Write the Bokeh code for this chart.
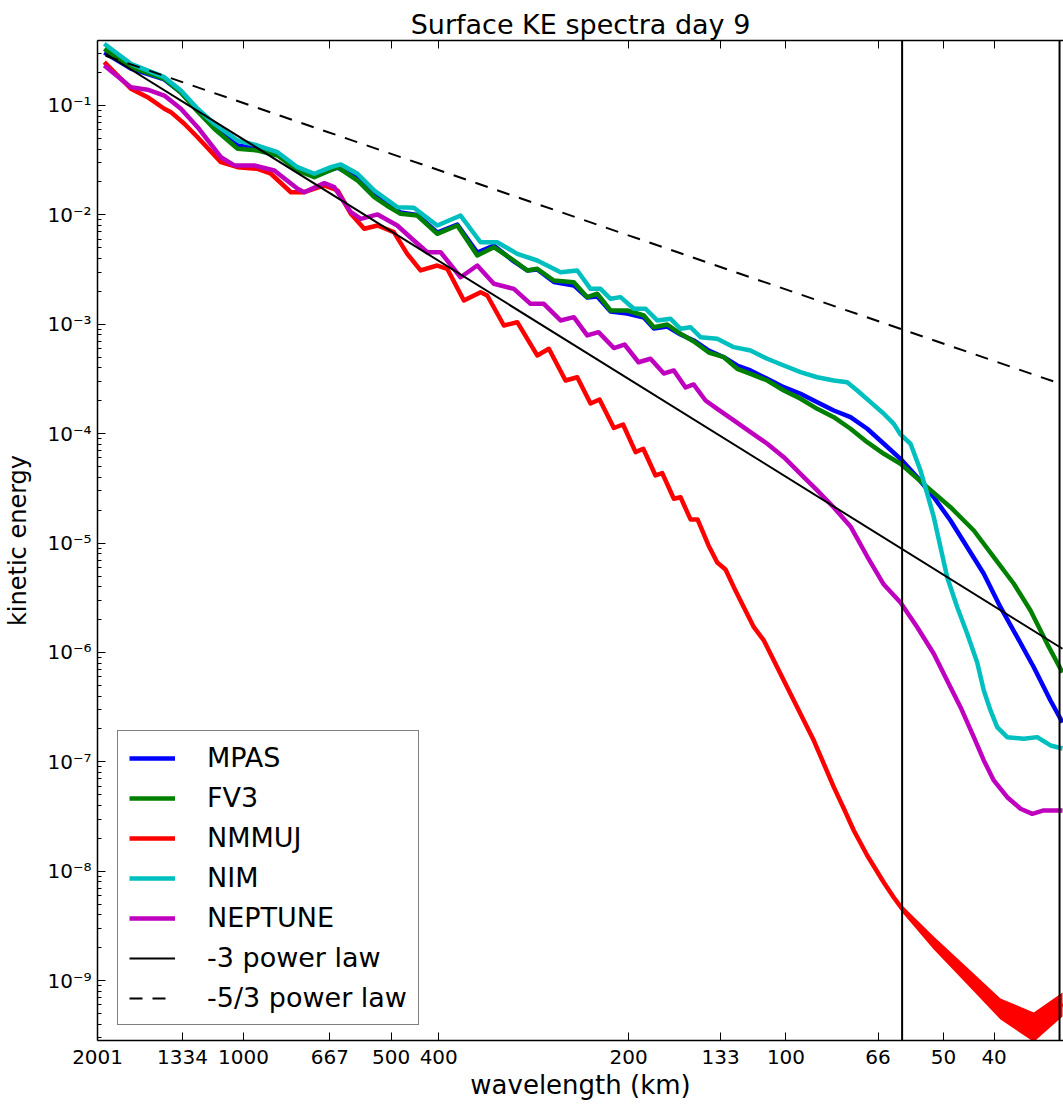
from bokeh.plotting import figure
from bokeh.models import FixedTicker, LogAxis, Span, Legend, LegendItem
from bokeh.embed import file_html
from bokeh.resources import INLINE

# ---- data (log10 wavenumber index, log10 kinetic energy) ----
mpas_lk = [-0.0025, 0.0484, 0.1122, 0.144, 0.1759, 0.2078, 0.2524, 0.2906, 0.3289, 0.3671,
           0.399, 0.4436, 0.4818, 0.5138, 0.5373, 0.564, 0.596, 0.6342, 0.6725, 0.7107,
           0.7424, 0.7807, 0.8063, 0.8254, 0.8572, 0.8954, 0.921, 0.9401, 0.9656, 0.9975,
           1.0292, 1.0484, 1.074, 1.0994, 1.1248, 1.1535, 1.1822, 1.2078, 1.2332, 1.2652,
           1.2969, 1.3288, 1.3608, 1.3925, 1.4244, 1.4564, 1.4881, 1.52, 1.552, 1.5837,
           1.6156, 1.6476, 1.6793, 1.7112, 1.7432, 1.7749, 1.8068, 1.8298]
mpas_le = [-0.516, -0.662, -0.762, -0.881, -1.046, -1.192, -1.366, -1.393, -1.434, -1.576,
           -1.640, -1.567, -1.667, -1.814, -1.905, -1.978, -2.001, -2.161, -2.088, -2.344,
           -2.280, -2.426, -2.508, -2.499, -2.613, -2.645, -2.755, -2.746, -2.883, -2.901,
           -2.938, -3.038, -3.020, -3.093, -3.148, -3.240, -3.301, -3.377, -3.422, -3.498,
           -3.575, -3.635, -3.712, -3.788, -3.849, -3.955, -4.092, -4.230, -4.398, -4.581,
           -4.794, -5.038, -5.281, -5.586, -5.860, -6.135, -6.439, -6.640]

fv3_lk = [-0.0025, 0.0484, 0.1122, 0.144, 0.1759, 0.2078, 0.2524, 0.2906, 0.3289, 0.3671,
          0.399, 0.4436, 0.4818, 0.5138, 0.5373, 0.564, 0.596, 0.6342, 0.6725, 0.7107,
          0.7424, 0.7807, 0.8063, 0.8254, 0.8572, 0.8954, 0.921, 0.9401, 0.9656, 0.9975,
          1.0292, 1.0484, 1.074, 1.0994, 1.1248, 1.1535, 1.1822, 1.2078, 1.2332, 1.2652,
          1.2969, 1.3288, 1.3608, 1.3925, 1.4244, 1.4564, 1.4881, 1.52, 1.5711, 1.6156,
          1.6602, 1.6984, 1.7367, 1.7686, 1.8005, 1.8298]
fv3_le = [-0.482, -0.650, -0.756, -0.881, -1.055, -1.213, -1.396, -1.411, -1.457, -1.594,
          -1.655, -1.564, -1.686, -1.838, -1.914, -1.990, -2.006, -2.173, -2.097, -2.371,
          -2.295, -2.417, -2.508, -2.493, -2.600, -2.615, -2.752, -2.721, -2.874, -2.874,
          -2.920, -3.027, -3.002, -3.087, -3.157, -3.258, -3.301, -3.407, -3.453, -3.514,
          -3.605, -3.681, -3.773, -3.849, -3.955, -4.078, -4.184, -4.275, -4.489, -4.672,
          -4.885, -5.129, -5.372, -5.616, -5.921, -6.183]

nmmuj_lk = [-0.0025, 0.0484, 0.0803, 0.1122, 0.1249, 0.1505, 0.1759, 0.2205, 0.2524, 0.2906,
            0.3161, 0.3543, 0.3799, 0.4182, 0.4436, 0.469, 0.4946, 0.5201, 0.5512, 0.5768,
            0.6023, 0.6342, 0.6533, 0.6851, 0.717, 0.7298, 0.7616, 0.7872, 0.8254, 0.8476,
            0.8795, 0.9019, 0.9273, 0.9445, 0.9719, 0.9895, 1.0134, 1.0281, 1.0516, 1.0644,
            1.0866, 1.0994, 1.1185, 1.1319, 1.1529, 1.1696, 1.1854, 1.2013, 1.2204, 1.2396,
            1.2587, 1.2778, 1.2969, 1.316, 1.3351, 1.3543, 1.3734, 1.3925, 1.4116, 1.4307,
            1.4564, 1.4881, 1.5072, 1.5233, 1.552, 1.5837, 1.6156, 1.6476, 1.6793, 1.7112,
            1.7432, 1.7749, 1.8068, 1.8298]
nmmuj_le = [-0.604, -0.847, -0.924, -1.030, -1.061, -1.167, -1.290, -1.518, -1.564, -1.579,
            -1.624, -1.793, -1.793, -1.731, -1.777, -1.990, -2.127, -2.097, -2.158, -2.356,
            -2.508, -2.463, -2.493, -2.782, -2.707, -2.737, -3.011, -2.981, -3.285, -3.224,
            -3.514, -3.484, -3.724, -3.688, -3.948, -3.916, -4.169, -4.138, -4.382, -4.361,
            -4.595, -4.581, -4.784, -4.784, -5.022, -5.178, -5.241, -5.403, -5.586, -5.769,
            -5.890, -6.073, -6.256, -6.439, -6.622, -6.805, -7.018, -7.231, -7.426, -7.627,
            -7.856, -8.103, -8.240, -8.343, -8.496, -8.651, -8.797, -8.953, -9.108, -9.254,
            -9.346, -9.428, -9.318, -9.209]
# noisy envelope of NMMUJ at the smallest scales
nmmuj_band_lk = [1.5233, 1.5837, 1.6476, 1.7112, 1.7749, 1.8298]
nmmuj_band_hi = [-8.313, -8.596, -8.880, -9.163, -9.291, -9.108]
nmmuj_band_lo = [-8.377, -8.715, -9.035, -9.355, -9.560, -9.328]

nim_lk = [-0.0025, 0.0484, 0.1122, 0.144, 0.1759, 0.2078, 0.2524, 0.2906, 0.3289, 0.3671,
          0.399, 0.4308, 0.4499, 0.4818, 0.5138, 0.5583, 0.5895, 0.6342, 0.6788, 0.717,
          0.7489, 0.7872, 0.8254, 0.87, 0.9019, 0.9273, 0.9464, 0.9656, 0.9847, 1.0101,
          1.0325, 1.0549, 1.0803, 1.0994, 1.1185, 1.1376, 1.1696, 1.2013, 1.2332, 1.2652,
          1.2969, 1.3288, 1.3608, 1.3925, 1.4181, 1.4373, 1.4627, 1.4881, 1.5072, 1.52,
          1.5392, 1.5583, 1.5711, 1.5837, 1.5965, 1.6093, 1.6285, 1.6476, 1.6667, 1.6793,
          1.6921, 1.7049, 1.7241, 1.7558, 1.7814, 1.8068, 1.8298]
nim_le = [-0.436, -0.619, -0.741, -0.863, -1.030, -1.167, -1.320, -1.366, -1.427, -1.564,
          -1.624, -1.564, -1.539, -1.624, -1.777, -1.930, -1.935, -2.097, -2.006, -2.250,
          -2.250, -2.356, -2.417, -2.524, -2.508, -2.676, -2.676, -2.767, -2.752, -2.858,
          -2.858, -2.965, -2.950, -3.041, -3.027, -3.118, -3.133, -3.209, -3.240, -3.315,
          -3.377, -3.438, -3.484, -3.514, -3.529, -3.605, -3.712, -3.818, -3.910, -4.007,
          -4.092, -4.337, -4.549, -4.763, -5.038, -5.312, -5.586, -5.829, -6.092, -6.347,
          -6.530, -6.683, -6.774, -6.789, -6.774, -6.850, -6.878]

neptune_lk = [-0.0025, 0.0484, 0.0803, 0.1122, 0.144, 0.1759, 0.2205, 0.2461, 0.2843, 0.3226,
              0.3671, 0.3799, 0.4182, 0.4373, 0.469, 0.4881, 0.5201, 0.5577, 0.5895, 0.6151,
              0.6405, 0.6788, 0.7107, 0.7424, 0.7807, 0.8126, 0.838, 0.87, 0.8954, 0.921,
              0.9426, 0.9719, 0.9923, 1.0191, 1.042, 1.0675, 1.0866, 1.109, 1.1243, 1.1472,
              1.1696, 1.2013, 1.2332, 1.2652, 1.2969, 1.3288, 1.3608, 1.3925, 1.4244, 1.4564,
              1.4881, 1.52, 1.552, 1.5837, 1.6156, 1.6348, 1.6602, 1.6793, 1.6984, 1.7241,
              1.7495, 1.7719, 1.794, 1.8298]
neptune_le = [-0.634, -0.833, -0.856, -0.909, -1.030, -1.198, -1.473, -1.548, -1.548, -1.594,
              -1.761, -1.793, -1.710, -1.747, -1.975, -2.036, -1.996, -2.097, -2.234, -2.341,
              -2.341, -2.570, -2.463, -2.630, -2.676, -2.813, -2.813, -2.965, -2.935, -3.102,
              -3.072, -3.217, -3.185, -3.347, -3.315, -3.450, -3.422, -3.578, -3.550, -3.697,
              -3.773, -3.879, -3.986, -4.092, -4.215, -4.367, -4.519, -4.675, -4.848, -5.123,
              -5.379, -5.543, -5.769, -6.012, -6.317, -6.500, -6.774, -6.987, -7.170, -7.323,
              -7.429, -7.475, -7.444, -7.444]

# reference power laws (end points)
law3_lk = [0.0, 1.8298]
law3_le = [-0.527, -5.966]
law53_lk = [0.0, 1.813]
law53_le = [-0.545, -3.523]

# marked wavelengths (km) and domain length for the wavenumber index
domain_km = 2001.0
marked_wavelengths_km = [60.0, 30.0]

# x tick positions (log10 wavenumber index) and their wavelength labels
xtick_lk = [-0.0153, 0.147, 0.2635, 0.429, 0.546, 0.637, 1.0, 1.1761, 1.301, 1.4771, 1.6021, 1.699]
xtick_labels = ["2001", "1334", "1000", "667", "500", "400", "200", "133", "100", "66", "50", "40"]
ytick_exponents = [-9, -8, -7, -6, -5, -4, -3, -2, -1]

x_lim_lk = (-0.0155, 1.8317)
y_lim_le = (-9.547, -0.406)


def pw(a):
    return [10.0 ** v for v in a]


FONT = "DejaVu Sans"

p = figure(frame_width=966, frame_height=1000,
           x_axis_type="log", y_axis_type="log",
           x_range=(10 ** x_lim_lk[0], 10 ** x_lim_lk[1]),
           y_range=(10 ** y_lim_le[0], 10 ** y_lim_le[1]),
           output_backend="svg", toolbar_location=None,
           min_border_left=97, min_border_right=0, min_border_top=40, min_border_bottom=0,
           title="Surface KE spectra day 9")

p.title.text_font = FONT
p.title.text_font_size = "27px"
p.title.text_font_style = "normal"
p.title.align = "center"
p.title.standoff = 2
p.title.text_color = "black"

p.grid.visible = False
p.outline_line_color = None
p.background_fill_color = "white"
p.border_fill_color = "white"

# axes
xt_vals = pw(xtick_lk)
xa = p.xaxis[0]
xa.ticker = FixedTicker(ticks=xt_vals, minor_ticks=[])
xa.major_label_overrides = {v: l for v, l in zip(xt_vals, xtick_labels)}
xa.axis_label = "wavelength (km)"

yt_vals = [10.0 ** e for e in ytick_exponents]
sup = {"-": "\u207b", "1": "\u00b9", "2": "\u00b2", "3": "\u00b3", "4": "\u2074",
       "5": "\u2075", "6": "\u2076", "7": "\u2077", "8": "\u2078", "9": "\u2079", "0": "\u2070"}
minor = [m * 10.0 ** e for e in range(-10, 0) for m in range(2, 10)]
ya = p.yaxis[0]
ya.ticker = FixedTicker(ticks=yt_vals, minor_ticks=minor)
ya.major_label_overrides = {v: "10" + "".join(sup[c] for c in str(e)) for v, e in zip(yt_vals, ytick_exponents)}
ya.axis_label = "kinetic energy"

for ax in (xa, ya):
    ax.major_label_text_font = FONT
    ax.major_label_text_font_size = "20px"
    ax.major_label_text_color = "black"
    ax.axis_label_text_font = FONT
    ax.axis_label_text_font_style = "normal"
    ax.axis_label_text_color = "black"
    ax.axis_line_color = "black"
    ax.axis_line_width = 1.5
    ax.major_tick_line_color = "black"
    ax.minor_tick_line_color = "black"
    ax.major_tick_in = 8
    ax.major_tick_out = 0
    ax.minor_tick_in = 4
    ax.minor_tick_out = 0
    ax.major_label_standoff = 6
xa.axis_label_text_font_size = "26px"
ya.axis_label_text_font_size = "24px"
xa.major_label_standoff = 9
xa.axis_label_standoff = 3
ya.axis_label_standoff = 12

top = LogAxis(ticker=FixedTicker(ticks=xt_vals, minor_ticks=[]),
              major_label_overrides={v: "" for v in xt_vals},
              major_label_text_font_size="20px", major_label_standoff=0,
              major_tick_in=8, major_tick_out=0, minor_tick_in=0, minor_tick_out=0,
              axis_line_color="black", axis_line_width=1.5, major_tick_line_color="black")
p.add_layout(top, "above")

# spectra
series = [("MPAS", mpas_lk, mpas_le, "#0000ff"),
          ("FV3", fv3_lk, fv3_le, "#008000"),
          ("NMMUJ", nmmuj_lk, nmmuj_le, "#ff0000"),
          ("NIM", nim_lk, nim_le, "#00bfbf"),
          ("NEPTUNE", neptune_lk, neptune_le, "#bf00bf")]
items = []
for name, lk, le, col in series:
    assert len(lk) == len(le), name
    r = p.line(pw(lk), pw(le), line_color=col, line_width=4.5, line_join="round")
    if name == "NMMUJ":
        p.varea(x=pw(nmmuj_band_lk), y1=pw(nmmuj_band_lo), y2=pw(nmmuj_band_hi), fill_color=col)
    items.append(LegendItem(label=name, renderers=[r]))

r3 = p.line(pw(law3_lk), pw(law3_le), line_color="black", line_width=2)
r53 = p.line(pw(law53_lk), pw(law53_le), line_color="black", line_width=2, line_dash="13 10")
items.append(LegendItem(label="-3 power law", renderers=[r3]))
items.append(LegendItem(label="-5/3 power law", renderers=[r53]))

for wl in marked_wavelengths_km:
    p.add_layout(Span(location=domain_km / wl, dimension="height", line_color="black", line_width=2))

legend = Legend(items=items, location=(20, 15), label_text_font=FONT, label_text_font_size="27px",
                label_text_color="black", padding=11, spacing=9, label_height=26, glyph_height=26,
                glyph_width=46, label_standoff=32, margin=0, border_line_color="black",
                border_line_width=1.5, background_fill_color="white", background_fill_alpha=1.0)
p.add_layout(legend)

open("out.html", "w").write(file_html(p, INLINE))
